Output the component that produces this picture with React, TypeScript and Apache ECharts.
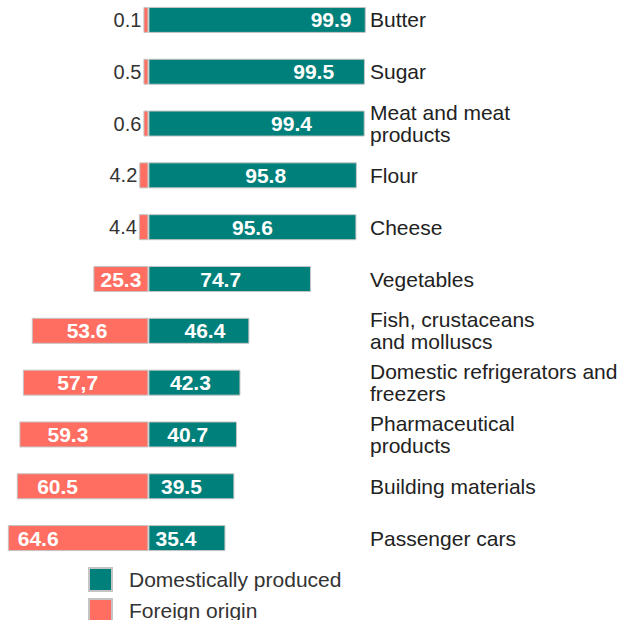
import React, { useEffect, useRef } from "react";
import * as echarts from "echarts";

const categories = [
  "Butter",
  "Sugar",
  "Meat and meat\nproducts",
  "Flour",
  "Cheese",
  "Vegetables",
  "Fish, crustaceans\nand molluscs",
  "Domestic refrigerators and\nfreezers",
  "Pharmaceutical\nproducts",
  "Building materials",
  "Passenger cars",
];
const domestic = [99.9, 99.5, 99.4, 95.8, 95.6, 74.7, 46.4, 42.3, 40.7, 39.5, 35.4];
const foreign = [0.1, 0.5, 0.6, 4.2, 4.4, 25.3, 53.6, 57.7, 59.3, 60.5, 64.6];
const foreignText = ["0.1", "0.5", "0.6", "4.2", "4.4", "25.3", "53.6", "57,7", "59.3", "60.5", "64.6"];
const legendNames = ["Domestically produced", "Foreign origin"];

// label nudges (px)
const domesticDx = [74, 57, 35, 13, 0, -9, 6, -4, -5, -10, -11];
const foreignDx = [0, 0, 0, 0, 0, 0, -3, -8, -16, -25, -40];

const TEAL = "#00807b";
const SALMON = "#ff6e61";
const BORDER = "#c4c4c4";
const FONT = "'Liberation Sans', Arial, sans-serif";

export default function App() {
  const ref = useRef<HTMLDivElement>(null);
  useEffect(() => {
    if (!ref.current) return;
    const chart = echarts.init(ref.current, undefined, { renderer: "svg" });
    const legendBase = {
      orient: "vertical",
      left: 88,
      padding: 0,
      itemWidth: 23,
      itemHeight: 23,
      icon: "rect",
      textStyle: { fontSize: 21, color: "#333", fontFamily: FONT, padding: [0, 0, 0, 12] },
    };
    chart.setOption({
      animation: false,
      textStyle: { fontFamily: FONT },
      grid: { left: 7, right: 256, top: 0, bottom: 56, containLabel: false },
      legend: [
        { ...legendBase, top: 573, data: [legendNames[0]] },
        { ...legendBase, top: 604, data: [legendNames[1]] },
      ],
      xAxis: {
        type: "value",
        min: -65,
        max: 100,
        show: false,
      },
      yAxis: {
        type: "category",
        data: categories,
        inverse: true,
        position: "right",
        axisLine: { show: false },
        axisTick: { show: false },
        axisLabel: {
          margin: 4,
          fontSize: 21,
          color: "#222",
          fontFamily: FONT,
          lineHeight: 22,
        },
      },
      series: [
        {
          name: legendNames[0],
          type: "bar",
          stack: "total",
          barWidth: 26,
          itemStyle: { color: TEAL, borderColor: BORDER, borderWidth: 1 },
          data: domestic.map((v, i) => ({
            value: v,
            label: {
              show: true,
              position: "inside",
              offset: [domesticDx[i], 0],
              color: "#fff",
              fontWeight: "bold",
              fontSize: 21,
              fontFamily: FONT,
            },
          })),
        },
        {
          name: legendNames[1],
          type: "bar",
          stack: "total",
          barWidth: 26,
          barMinHeight: 5,
          itemStyle: { color: SALMON, borderColor: BORDER, borderWidth: 1 },
          data: foreign.map((v, i) => {
            const small = v < 10;
            return {
              value: -v,
              label: small
                ? {
                    show: true,
                    position: "left",
                    distance: 2,
                    color: "#333",
                    fontWeight: "normal",
                    fontSize: 20,
                    fontFamily: FONT,
                    formatter: () => foreignText[i],
                  }
                : {
                    show: true,
                    position: "inside",
                    offset: [foreignDx[i], 0],
                    color: "#fff",
                    fontWeight: "bold",
                    fontSize: 21,
                    fontFamily: FONT,
                    formatter: () => foreignText[i],
                  },
            };
          }),
        },
      ],
    });
    return () => chart.dispose();
  }, []);
  return (
    <div
      ref={ref}
      style={{ position: "fixed", left: 0, top: -6, width: 622, height: 626, background: "#fff" }}
    />
  );
}
